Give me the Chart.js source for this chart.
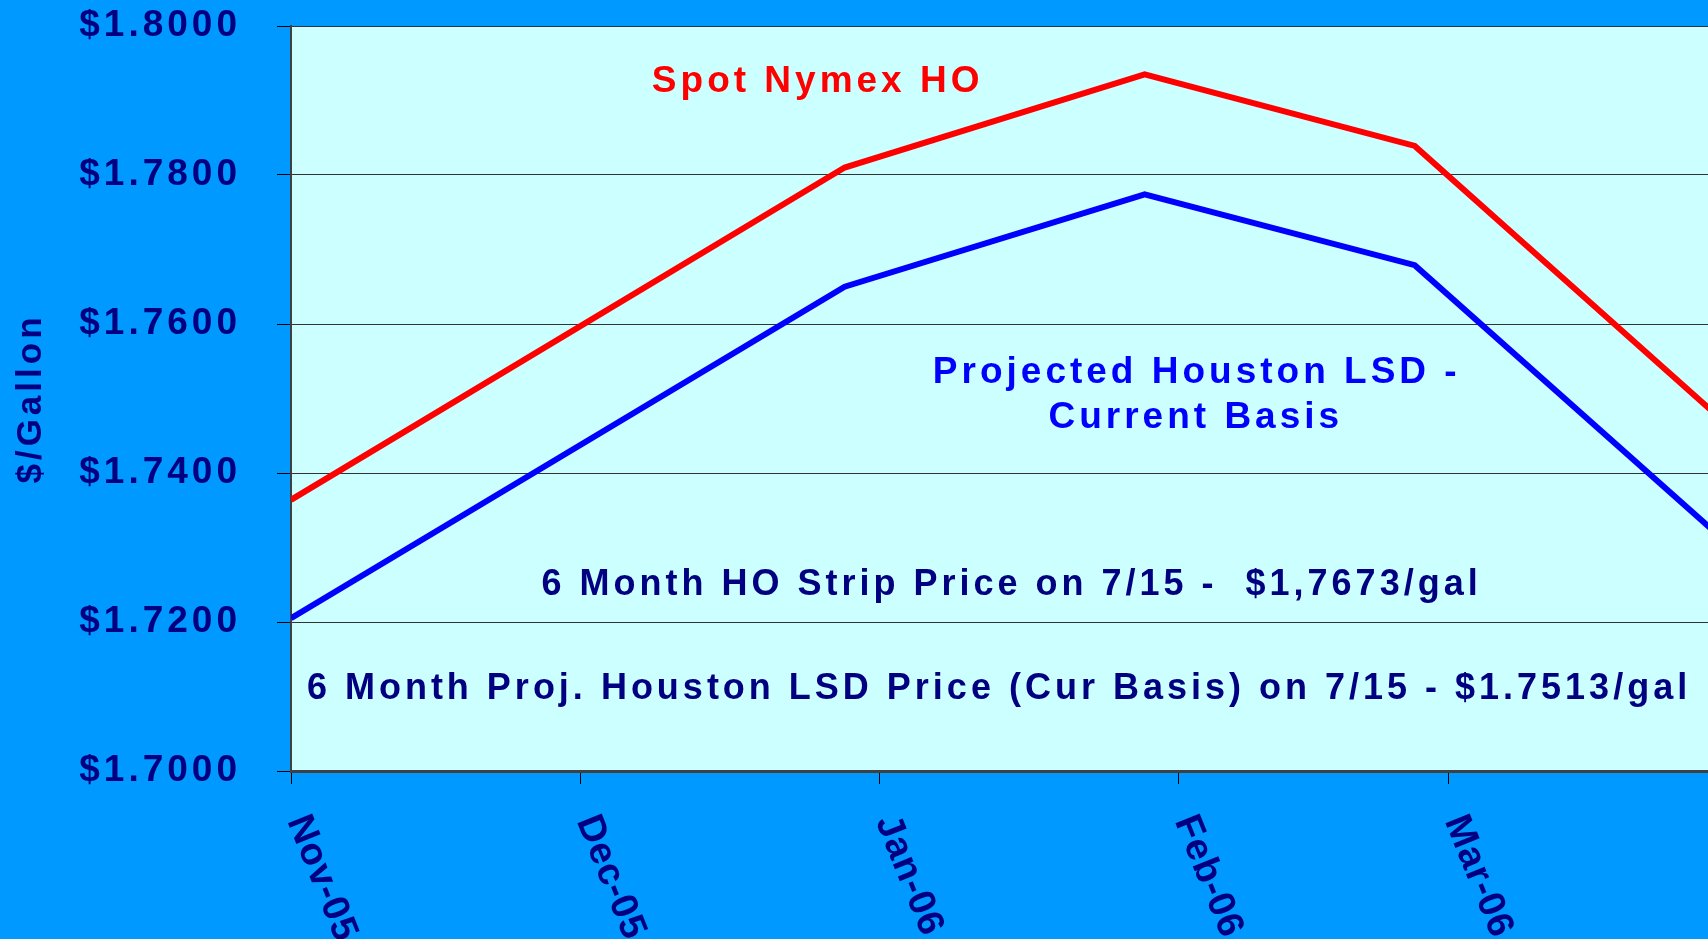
<!DOCTYPE html>
<html>
<head>
<meta charset="utf-8">
<title>Spot Nymex HO vs Projected Houston LSD</title>
<script src="https://cdn.jsdelivr.net/npm/chart.js@4.4.1/dist/chart.umd.min.js"></script>
<style>
  html, body { margin: 0; padding: 0; background: #0099ff; overflow: hidden; }
  #wrap { width: 1708px; height: 939px; position: relative; }
</style>
</head>
<body>
<div id="wrap"><canvas id="price-chart"></canvas></div>
<script>
// Month ticks on the date axis (days counted from 1 Nov 2005)
const monthLabels = ['Nov-05', 'Dec-05', 'Jan-06', 'Feb-06', 'Mar-06', 'Apr-06'];
const monthDays = [0, 30, 61, 92, 120, 151];

// Contract points, x = days from 1 Nov 2005
const pointDays = [0, 57.4, 88.5, 116.5, 147.5];
const spotNymexHO = [1.7364, 1.7810, 1.7935, 1.7839, 1.7481];
const houstonLSD = [1.7205, 1.7650, 1.7774, 1.7679, 1.7322];

// Value axis
const yTicks = [1.70, 1.72, 1.74, 1.76, 1.78, 1.80];
const yTitle = '$/Gallon';

// Text placed on the plot (x in days, y in $/gal)
const notes = [
  { text: 'Spot Nymex HO', color: '#ff0000', x: 54.6, y: 1.7925 },
  { text: 'Projected Houston LSD -', color: '#0000ff', x: 93.9, y: 1.7535 },
  { text: 'Current Basis', color: '#0000ff', x: 93.8, y: 1.7474 },
  { text: '6 Month HO Strip Price on 7/15 -  $1,7673/gal', color: '#000080', x: 74.7, y: 1.7250 },
  { text: '6 Month Proj. Houston LSD Price (Cur Basis) on 7/15 - $1.7513/gal', color: '#000080', x: 73.4, y: 1.7110 }
];

const FONT = "'Liberation Sans', Arial, sans-serif";
const NAVY = '#000080';

Chart.defaults.font.family = FONT;
Chart.defaults.font.weight = 'bold';

// Light plot background + letter spacing like the original slide
const plotBackground = {
  id: 'plotBackground',
  beforeDraw(chart) {
    const { ctx, chartArea } = chart;
    ctx.save();
    ctx.fillStyle = '#ccffff';
    ctx.fillRect(chartArea.left, chartArea.top, chartArea.right - chartArea.left, chartArea.bottom - chartArea.top);
    ctx.restore();
    ctx.letterSpacing = '4px';
  }
};

// Rotated month labels, reading downward from each tick
const monthTickLabels = {
  id: 'monthTickLabels',
  afterDraw(chart) {
    const { ctx } = chart;
    const xScale = chart.scales.x;
    ctx.save();
    ctx.letterSpacing = '1px';
    ctx.font = `bold 38px ${FONT}`;
    ctx.fillStyle = NAVY;
    ctx.textAlign = 'left';
    ctx.textBaseline = 'alphabetic';
    xScale.ticks.forEach(tick => {
      const i = monthDays.indexOf(tick.value);
      if (i < 0) return;
      const px = xScale.getPixelForValue(tick.value);
      ctx.save();
      ctx.translate(px - 4, xScale.top + 50);
      ctx.rotate(68 * Math.PI / 180);
      ctx.fillText(monthLabels[i], 0, 0);
      ctx.restore();
    });
    ctx.restore();
  }
};

// Annotation text inside the plot
const plotNotes = {
  id: 'plotNotes',
  afterDatasetsDraw(chart) {
    const { ctx } = chart;
    const xScale = chart.scales.x;
    const yScale = chart.scales.y;
    ctx.save();
    ctx.letterSpacing = '4px';
    ctx.textAlign = 'center';
    ctx.textBaseline = 'middle';
    notes.forEach((note, idx) => {
      ctx.font = `bold ${idx < 3 ? 37 : 36}px ${FONT}`;
      ctx.fillStyle = note.color;
      ctx.fillText(note.text, xScale.getPixelForValue(note.x), yScale.getPixelForValue(note.y));
    });
    ctx.restore();
  }
};

const ctx = document.getElementById('price-chart').getContext('2d');

new Chart(ctx, {
  type: 'line',
  data: {
    datasets: [
      {
        label: 'Spot Nymex HO',
        data: pointDays.map((d, i) => ({ x: d, y: spotNymexHO[i] })),
        borderColor: '#ff0000',
        borderWidth: 6,
        pointRadius: 0,
        tension: 0,
        fill: false
      },
      {
        label: 'Projected Houston LSD - Current Basis',
        data: pointDays.map((d, i) => ({ x: d, y: houstonLSD[i] })),
        borderColor: '#0000ff',
        borderWidth: 6,
        pointRadius: 0,
        tension: 0,
        fill: false
      }
    ]
  },
  options: {
    responsive: true,
    maintainAspectRatio: false,
    animation: false,
    devicePixelRatio: 1,
    layout: { padding: { top: 26, left: 0, right: 0, bottom: 0 } },
    plugins: {
      legend: { display: false },
      tooltip: { enabled: false }
    },
    scales: {
      x: {
        type: 'linear',
        min: 0,
        max: 146.9,
        afterBuildTicks(scale) {
          scale.ticks = monthDays.filter(d => d <= scale.max).map(v => ({ value: v }));
        },
        afterFit(scale) {
          scale.height = 168;
          scale.paddingLeft = 0;
          scale.paddingRight = 0;
        },
        ticks: { display: false },
        grid: {
          drawOnChartArea: false,
          drawTicks: true,
          tickLength: 13,
          tickColor: '#000000'
        },
        border: { color: '#404040', width: 3 }
      },
      y: {
        min: 1.70,
        max: 1.80,
        afterBuildTicks(scale) {
          scale.ticks = yTicks.map(v => ({ value: v }));
        },
        afterFit(scale) {
          scale.width = 291;
          scale.paddingTop = 0;
          scale.paddingBottom = 0;
        },
        ticks: {
          color: NAVY,
          font: { size: 37, weight: 'bold' },
          padding: 36,
          callback: v => '$' + Number(v).toFixed(4)
        },
        grid: {
          color: '#333333',
          lineWidth: 1,
          drawTicks: true,
          tickLength: 14,
          tickColor: '#000000'
        },
        border: { color: '#404040', width: 2 },
        title: {
          display: true,
          text: yTitle,
          color: NAVY,
          font: { size: 35, weight: 'bold' },
          padding: { top: 10, bottom: 0 }
        }
      }
    }
  },
  plugins: [plotBackground, plotNotes, monthTickLabels]
});
</script>
</body>
</html>
